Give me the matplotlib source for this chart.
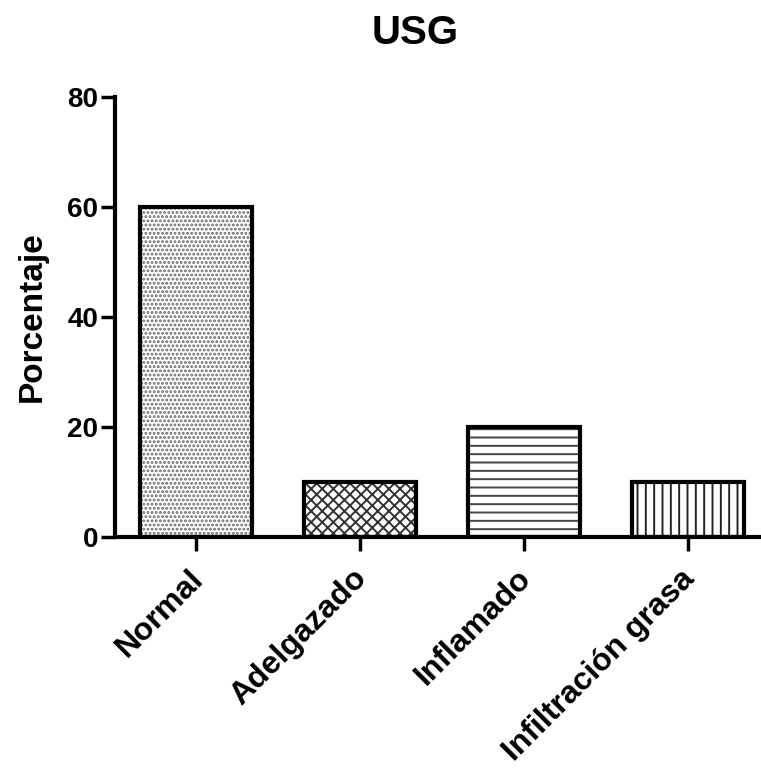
import numpy as np
import matplotlib.pyplot as plt
import matplotlib.transforms as mtransforms

# data
categorias = ['Normal', 'Adelgazado', 'Inflamado', 'Infiltración grasa']
porcentaje = [60, 10, 20, 10]
tramas = ['....', 'xxx', '--', '||']
color_trama = ['#6a6a6a', '#333333', '#444444', '#222222']

plt.rcParams['font.family'] = ['Liberation Sans', 'DejaVu Sans']
plt.rcParams['font.weight'] = 'bold'
plt.rcParams['hatch.linewidth'] = 1.4

fig = plt.figure(figsize=(7.61, 7.74), dpi=100)
ax = fig.add_axes([0.151, 0.306, 0.849, 0.569])

x = np.arange(len(categorias))
# hatch fill first (hatch takes edge colour), then black outline on top
relleno = ax.bar(x, porcentaje, width=0.68, color='white', linewidth=0)
for b, h, c in zip(relleno, tramas, color_trama):
    b.set_hatch(h)
    b.set_edgecolor(c)
ax.bar(x, porcentaje, width=0.68, fill=False, edgecolor='black', linewidth=3)

ax.set_xlim(-0.494, 3.445)
ax.set_ylim(0, 80)
ax.set_yticks([0, 20, 40, 60, 80])
ax.set_xticks(x)
ax.set_xticklabels(categorias, rotation=45, ha='right', rotation_mode='anchor', fontsize=23, fontweight='bold')
ax.tick_params(axis='both', width=2.5, length=10, labelsize=20)
ax.tick_params(axis='x', pad=9, labelsize=23)
ax.tick_params(axis='y', pad=2)
for lbl in ax.get_yticklabels():
    lbl.set_fontweight('bold')
# nudge rotated labels a little left so they end at the tick
shift = mtransforms.ScaledTranslation(-0.08, 0, fig.dpi_scale_trans)
for lbl in ax.get_xticklabels():
    lbl.set_transform(lbl.get_transform() + shift)

ax.spines['top'].set_visible(False)
ax.spines['right'].set_visible(False)
ax.spines['left'].set_linewidth(3)
ax.spines['bottom'].set_linewidth(3)

ax.set_ylabel('Porcentaje', fontsize=24, fontweight='bold', labelpad=14)
fig.text(0.545, 0.957, 'USG', fontsize=29, fontweight='bold', ha='center', va='center')

fig.savefig('out.png', dpi=100)
